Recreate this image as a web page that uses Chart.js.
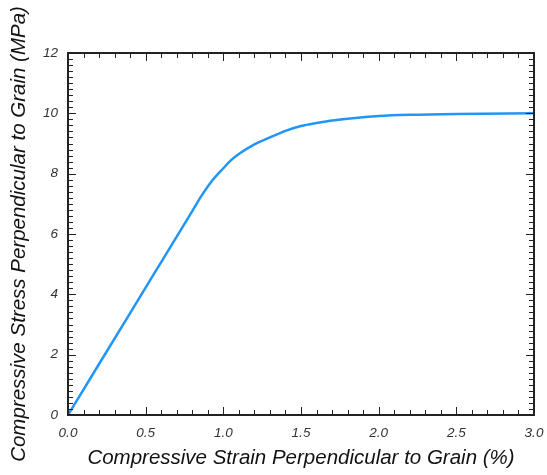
<!DOCTYPE html>
<html>
<head>
<meta charset="utf-8">
<script src="https://cdn.jsdelivr.net/npm/chart.js@4"></script>
<style>
  html, body { margin: 0; padding: 0; background: #fff; }
  #wrap { width: 547px; height: 475px; }
</style>
</head>
<body>
<div id="wrap"><canvas id="stressChart"></canvas></div>
<script>
// strain (%) and stress (MPa)
const strain = [0, 0.2, 0.4, 0.6, 0.8, 0.86, 0.93, 1.0, 1.05, 1.1, 1.2, 1.3, 1.4, 1.5, 1.6, 1.7, 1.8, 1.9, 2.0, 2.2, 2.5, 3.0];
const stress = [0, 1.69, 3.38, 5.07, 6.76, 7.27, 7.78, 8.18, 8.45, 8.65, 8.97, 9.2, 9.42, 9.58, 9.68, 9.76, 9.82, 9.87, 9.91, 9.95, 9.98, 10.0];
const xTicks = [0, 0.5, 1.0, 1.5, 2.0, 2.5, 3.0];
const yTicks = [0, 2, 4, 6, 8, 10, 12];

const points = strain.map((x, i) => ({ x: x, y: stress[i] }));
const font = 'Liberation Sans, Helvetica, Arial, sans-serif';

// inward tick marks on all four sides of the frame
const innerTicks = {
    id: 'innerTicks',
    afterDraw(chart) {
        const ctx = chart.ctx;
        const a = chart.chartArea;
        const xs = chart.scales.x, ys = chart.scales.y;
        ctx.save();
        ctx.strokeStyle = '#222';
        ctx.lineWidth = 1;
        ctx.beginPath();
        for (let i = 0; i <= 30; i++) {
            const px = Math.round(xs.getPixelForValue(i / 10)) + 0.5;
            const len = i % 5 === 0 ? 8 : 5;
            ctx.moveTo(px, a.bottom); ctx.lineTo(px, a.bottom - len);
            ctx.moveTo(px, a.top); ctx.lineTo(px, a.top + len);
        }
        for (let i = 0; i <= 60; i++) {
            const py = Math.round(ys.getPixelForValue(i / 5)) + 0.5;
            const len = i % 10 === 0 ? 8 : 5;
            ctx.moveTo(a.left, py); ctx.lineTo(a.left + len, py);
            ctx.moveTo(a.right, py); ctx.lineTo(a.right - len, py);
        }
        ctx.stroke();
        ctx.lineWidth = 2;
        ctx.strokeRect(a.left, a.top, a.right - a.left, a.bottom - a.top);
        ctx.restore();
    }
};

const ctx = document.getElementById('stressChart').getContext('2d');
new Chart(ctx, {
    type: 'line',
    data: {
        datasets: [{
            data: points,
            borderColor: '#2196f8',
            borderWidth: 2.5,
            pointRadius: 0,
            cubicInterpolationMode: 'monotone',
            fill: false
        }]
    },
    options: {
        responsive: true,
        maintainAspectRatio: false,
        animation: false,
        layout: { padding: { top: 53, right: 13, left: 0, bottom: 0 } },
        plugins: {
            legend: { display: false },
            tooltip: { enabled: false }
        },
        scales: {
            x: {
                type: 'linear',
                min: 0,
                max: 3,
                afterBuildTicks: s => { s.ticks = xTicks.map(v => ({ value: v })); },
                afterFit: s => { s.height = 60; s.paddingLeft = 0; s.paddingRight = 0; },
                grid: { display: false, drawTicks: false },
                border: { display: false },
                ticks: {
                    padding: 10,
                    color: '#333',
                    font: { family: font, size: 13.5, style: 'italic' },
                    callback: v => v.toFixed(1)
                },
                title: {
                    display: true,
                    text: 'Compressive Strain Perpendicular to Grain (%)',
                    color: '#111',
                    font: { family: font, size: 20.5, style: 'italic' },
                    padding: { top: 8 }
                }
            },
            y: {
                type: 'linear',
                min: 0,
                max: 12,
                afterBuildTicks: s => { s.ticks = yTicks.map(v => ({ value: v })); },
                afterFit: s => { s.width = 68; s.paddingTop = 0; s.paddingBottom = 0; },
                grid: { display: false, drawTicks: false },
                border: { display: false },
                ticks: {
                    padding: 10,
                    color: '#333',
                    font: { family: font, size: 13.5, style: 'italic' }
                },
                title: {
                    display: true,
                    text: 'Compressive Stress Perpendicular to Grain (MPa)',
                    color: '#111',
                    font: { family: font, size: 20.5, style: 'italic' },
                    padding: { top: 7, bottom: 0 }
                }
            }
        }
    },
    plugins: [innerTicks]
});
</script>
</body>
</html>
